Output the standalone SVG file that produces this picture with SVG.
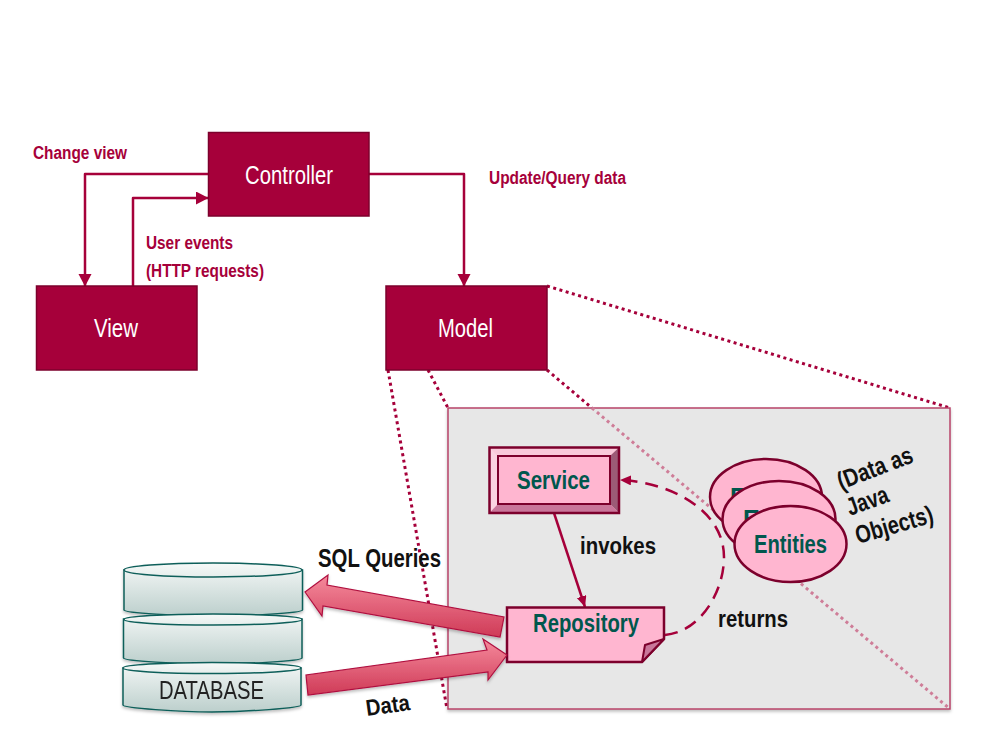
<svg xmlns="http://www.w3.org/2000/svg" width="1000" height="750" viewBox="0 0 1000 750">
<style>
text{font-family:"Liberation Sans",Arial,sans-serif}
.box{fill:#a6003a;stroke:#7c002c;stroke-width:1.5}
.wt{fill:#fff;font-size:25px;text-anchor:middle}
.lb{fill:#a6003a;font-size:18px;font-weight:bold}
.bk{fill:#111;font-weight:bold;font-size:23px}
.teal{fill:#00574d;font-weight:bold;font-size:25px}
.pink{fill:#ffb6d0;stroke:#7c002c;stroke-width:2.5}
.wire{fill:none;stroke:#a6003a;stroke-width:2.5;stroke-linejoin:round}
.dot{fill:none;stroke:#a6003a;stroke-width:3;stroke-dasharray:3 3.5}
.cyl{fill:url(#cg);stroke:#0f5f5a;stroke-width:1.5}
.cap{fill:url(#tg);stroke:#0f5f5a;stroke-width:1.5}
.big{fill:url(#ag);stroke:#b0103f;stroke-width:1.2;filter:url(#sh)}
</style>
<defs>
<linearGradient id="cg" x1="0" y1="0" x2="0" y2="1"><stop offset="0" stop-color="#eef3f2"/><stop offset="1" stop-color="#bccfcc"/></linearGradient>
<linearGradient id="tg" x1="0" y1="0" x2="0" y2="1"><stop offset="0" stop-color="#f6f9f8"/><stop offset="1" stop-color="#e6eeec"/></linearGradient>
<linearGradient id="ag" x1="0" y1="0" x2="0" y2="1"><stop offset="0" stop-color="#f58a9c"/><stop offset="1" stop-color="#cf3a57"/></linearGradient>
<filter id="sh" x="-10%" y="-20%" width="120%" height="140%"><feDropShadow dx="0" dy="2" stdDeviation="1.5" flood-color="#000" flood-opacity=".25"/></filter>
<marker id="ah" markerUnits="userSpaceOnUse" markerWidth="14" markerHeight="14" refX="12" refY="6.5" orient="auto"><path d="M0,0L12.500,6.500L0,13Z" fill="#a6003a"/></marker>
<marker id="as" markerUnits="userSpaceOnUse" markerWidth="14" markerHeight="12" refX="11" refY="5" orient="auto"><path d="M0,0L11,5L0,10Z" fill="#a6003a"/></marker>
</defs>

<g id="zoom-lines">
<path class="dot" d="M547,286L950,408"/>
<path class="dot" d="M547,370L592,408"/>
<path class="dot" d="M428,370L448,408"/>
<path class="dot" d="M388,370L447,709"/>
</g>

<g id="model-panel">
<rect x="448" y="408" width="502" height="301" fill="#e7e7e7" stroke="#b8446a" stroke-width="1.500" filter="url(#sh)"/>
<path class="dot" d="M592,408L950,709" style="stroke:#cf7d98"/>
</g>

<g id="connectors">
<path class="wire" marker-end="url(#ah)" d="M208,174H85V286"/>
<path class="wire" marker-end="url(#ah)" d="M133,286V198H208"/>
<path class="wire" marker-end="url(#ah)" d="M369,174H464V286"/>
<path class="wire" marker-end="url(#as)" d="M554,513L585,607"/>
<path fill="none" stroke="#a6003a" stroke-width="2.500" stroke-dasharray="13 8" marker-end="url(#as)" d="M665,635C700,632 724,592 724,557C724,510 670,482 620,480"/>
</g>

<g id="controller"><rect class="box" x="208.500" y="132.500" width="160.500" height="83.500"/><text class="wt" x="289" y="184" textLength="88" lengthAdjust="spacingAndGlyphs">Controller</text></g>
<g id="view"><rect class="box" x="36.500" y="286" width="160.500" height="84"/><text class="wt" x="116" y="337" textLength="44" lengthAdjust="spacingAndGlyphs">View</text></g>
<g id="model"><rect class="box" x="386" y="286" width="161" height="84"/><text class="wt" x="465.500" y="337" textLength="55" lengthAdjust="spacingAndGlyphs">Model</text></g>

<g id="labels">
<text class="lb" x="33" y="159" textLength="94" lengthAdjust="spacingAndGlyphs">Change view</text>
<text class="lb" x="489" y="184" textLength="137" lengthAdjust="spacingAndGlyphs">Update/Query data</text>
<text class="lb" x="146" y="249" textLength="87" lengthAdjust="spacingAndGlyphs">User events</text>
<text class="lb" x="146" y="277" textLength="118" lengthAdjust="spacingAndGlyphs">(HTTP requests)</text>
<text class="bk" x="580" y="554" textLength="76" lengthAdjust="spacingAndGlyphs">invokes</text>
<text class="bk" x="718" y="627" textLength="70" lengthAdjust="spacingAndGlyphs">returns</text>
<text class="bk" x="318" y="567" style="font-size:25px" textLength="123" lengthAdjust="spacingAndGlyphs">SQL Queries</text>
<text class="bk" transform="translate(367,716) rotate(-8)" textLength="44" lengthAdjust="spacingAndGlyphs">Data</text>
<text class="bk" transform="translate(841,490) rotate(-21)" style="font-size:25px" textLength="79" lengthAdjust="spacingAndGlyphs">(Data as</text>
<text class="bk" transform="translate(850,516) rotate(-20)" style="font-size:25px" textLength="43" lengthAdjust="spacingAndGlyphs">Java</text>
<text class="bk" transform="translate(858,544) rotate(-16)" style="font-size:25px" textLength="80" lengthAdjust="spacingAndGlyphs">Objects)</text>
</g>

<g id="service">
<rect x="489.500" y="447.500" width="129.500" height="65.500" fill="#ffb6d0"/>
<path d="M489.500,447.500H619L610,456H498Z" fill="#f9c9da"/>
<path d="M489.500,447.500V513L498,504V456Z" fill="#fbd3e1"/>
<path d="M619,447.500V513L610,504V456Z" fill="#9c5a76"/>
<path d="M489.500,513H619L610,504H498Z" fill="#c9769a"/>
<rect x="489.500" y="447.500" width="129.500" height="65.500" fill="none" stroke="#7c002c" stroke-width="2.500"/>
<rect x="498" y="456" width="112" height="48" fill="none" stroke="#7c002c" stroke-width="2"/>
<text class="teal" x="517" y="489" textLength="73" lengthAdjust="spacingAndGlyphs">Service</text>
</g>

<g id="repository">
<path class="pink" d="M507,607.500H664V639L642,662H507Z"/>
<path d="M664,639L645,645L642,662Z" fill="#c9769a" stroke="#7c002c" stroke-width="2" stroke-linejoin="round"/>
<text class="teal" x="533" y="632" textLength="106" lengthAdjust="spacingAndGlyphs">Repository</text>
</g>

<g id="entities">
<ellipse class="pink" cx="766" cy="497" rx="56" ry="38"/>
<text class="teal" x="730" y="506">E</text>
<ellipse class="pink" cx="779" cy="519" rx="56.500" ry="38"/>
<text class="teal" x="743" y="528">E</text>
<ellipse class="pink" cx="790.500" cy="544" rx="56" ry="38"/>
<text class="teal" x="754" y="553" textLength="73" lengthAdjust="spacingAndGlyphs">Entities</text>
</g>

<g id="database" filter="url(#sh)">
<path class="cyl" d="M124,570V610C124,613 180,616 213,616C246,616 302.500,613 302.500,610V570Z"/>
<ellipse class="cap" cx="213" cy="570" rx="89" ry="7"/>
<path class="cyl" d="M123.500,619V658C123.500,661 180,664 213,664C246,664 302,661 302,658V619Z"/>
<ellipse class="cap" cx="213" cy="619.500" rx="89" ry="5.500"/>
<path class="cyl" d="M123,668V705C123,708 180,712 212,712C245,712 301,708 301,705V668Z"/>
<ellipse class="cap" cx="212" cy="668" rx="89" ry="5.500"/>
<text x="159" y="699" fill="#222" font-size="25" textLength="105" lengthAdjust="spacingAndGlyphs">DATABASE</text>
</g>

<g id="flow-arrows">
<path class="big" d="M305,592L328,575L327,585L504,617L500,637L323,606L322,616Z"/>
<path class="big" d="M507,655L483,639L487,650L306,675L308,695L488,672L488,680Z"/>
</g>
</svg>
